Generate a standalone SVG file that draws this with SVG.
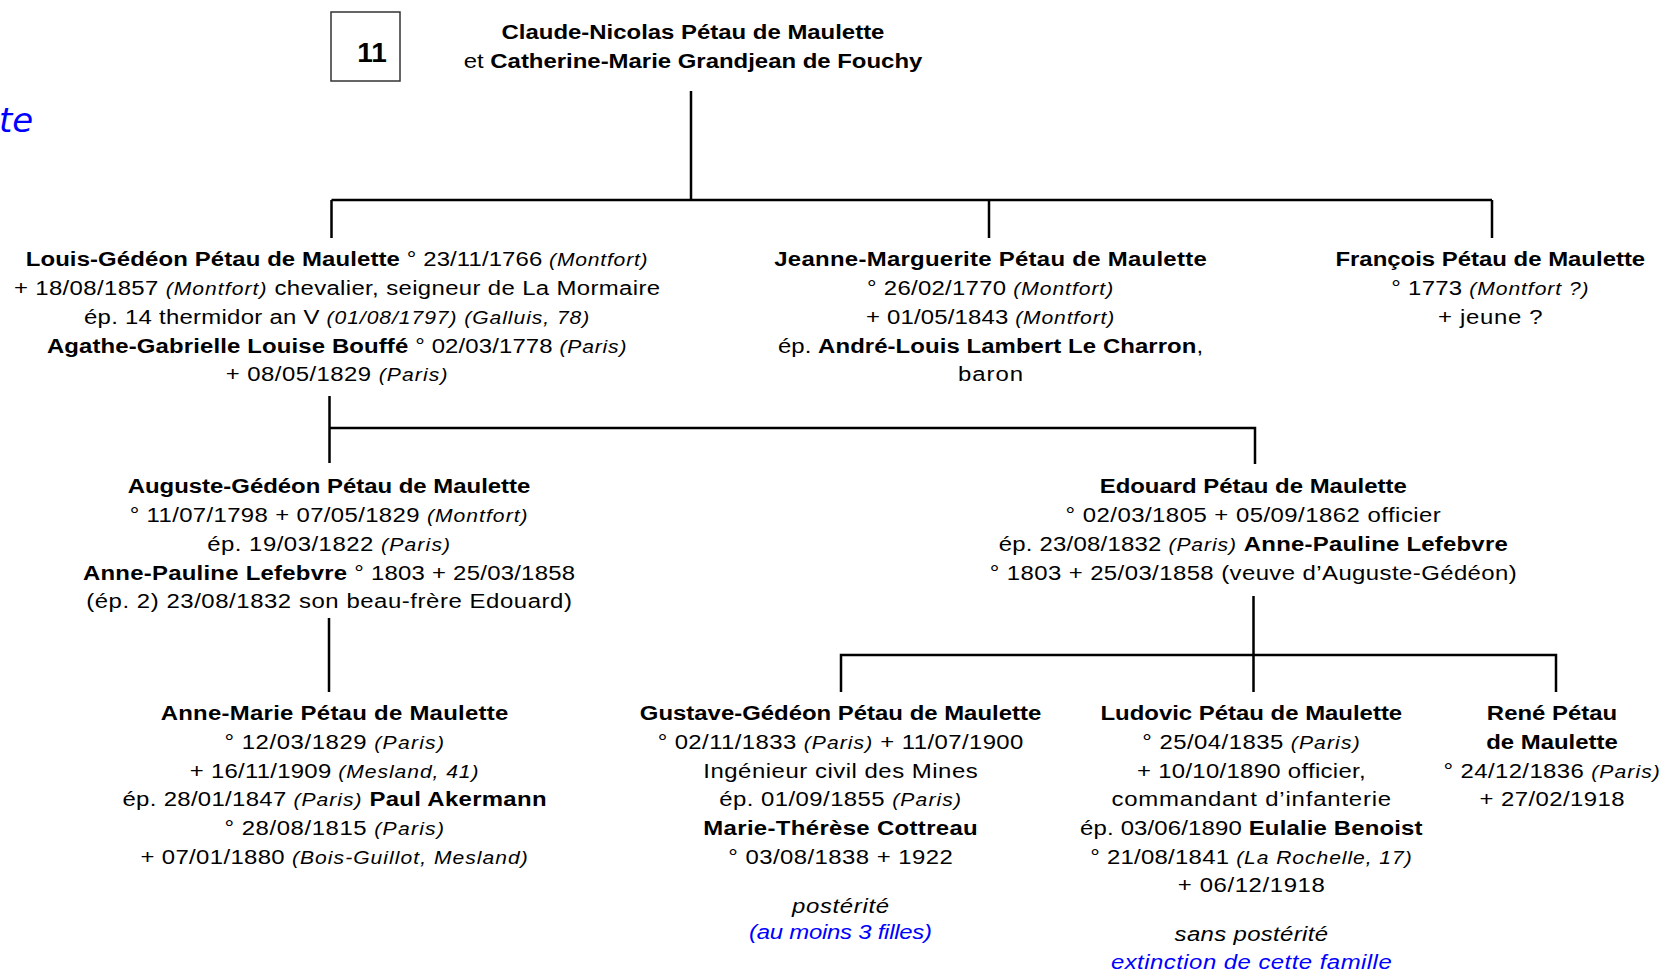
<svg xmlns="http://www.w3.org/2000/svg" width="1665" height="971" viewBox="0 0 1665 971">
<style>
.t{font-family:"Liberation Sans",Arial,sans-serif;font-size:21px;fill:#000;text-anchor:middle}
.b{font-weight:bold}
.i{font-style:italic;font-size:18.5px;letter-spacing:0.6px}
.it{font-style:italic}
.bl{fill:#0000ff}
.c{stroke:#000;stroke-width:2.5;fill:none}
</style>
<rect width="1665" height="971" fill="#fff"/>
<text x="-1" y="132" font-family="DejaVu Sans, sans-serif" font-style="italic" font-size="34" fill="#0000ff">te</text>
<g id="n-num">
<rect x="331" y="12" width="69" height="69" fill="none" stroke="#333" stroke-width="1.5"/>
<text x="372" y="62" font-family="Liberation Sans, Arial, sans-serif" font-weight="bold" font-size="28" text-anchor="middle">11</text>
</g>
<g id="connectors">
<path class="c" d="M691 91V200M331.5 200H1492M331.5 200V238M989 200V238M1492 200V238"/>
<path class="c" d="M329.5 396V463M329.5 428H1255V464"/>
<path class="c" d="M329 618V692M1253.5 596V692M841 692V655H1556V692"/>
</g>
<g id="n-parents" transform="translate(693,0) scale(1.14,1)">
<text class="t" x="0" y="39"><tspan class="b">Claude-Nicolas Pétau de Maulette</tspan></text>
<text class="t" x="0" y="68">et <tspan class="b">Catherine-Marie Grandjean de Fouchy</tspan></text>
</g>
<g id="n-louis" transform="translate(337,0) scale(1.14,1)">
<text class="t" x="0" y="266.3" textLength="546.2" lengthAdjust="spacing"><tspan class="b">Louis-Gédéon Pétau de Maulette</tspan> ° 23/11/1766 <tspan class="i">(Montfort)</tspan></text>
<text class="t" x="0" y="295.2" textLength="566.8" lengthAdjust="spacing">+ 18/08/1857 <tspan class="i">(Montfort)</tspan> chevalier, seigneur de La Mormaire</text>
<text class="t" x="0" y="324" textLength="443.8" lengthAdjust="spacing">ép. 14 thermidor an V <tspan class="i">(01/08/1797) (Galluis, 78)</tspan></text>
<text class="t" x="0" y="352.7" textLength="509" lengthAdjust="spacing"><tspan class="b">Agathe-Gabrielle Louise Bouffé</tspan> ° 02/03/1778 <tspan class="i">(Paris)</tspan></text>
<text class="t" x="0" y="381.4" textLength="195.1" lengthAdjust="spacing">+ 08/05/1829 <tspan class="i">(Paris)</tspan></text>
</g>
<g id="n-jeanne" transform="translate(990.5,0) scale(1.14,1)">
<text class="t" x="0" y="266.3" textLength="379.4" lengthAdjust="spacing"><tspan class="b">Jeanne-Marguerite Pétau de Maulette</tspan></text>
<text class="t" x="0" y="295.2" textLength="216.5" lengthAdjust="spacing">° 26/02/1770 <tspan class="i">(Montfort)</tspan></text>
<text class="t" x="0" y="324" textLength="218.3" lengthAdjust="spacing">+ 01/05/1843 <tspan class="i">(Montfort)</tspan></text>
<text class="t" x="0" y="352.7" textLength="373" lengthAdjust="spacing">ép. <tspan class="b">André-Louis Lambert Le Charron</tspan>,</text>
<text class="t" x="0" y="381.4" textLength="57.2" lengthAdjust="spacing">baron</text>
</g>
<g id="n-francois" transform="translate(1490.3,0) scale(1.14,1)">
<text class="t" x="0" y="266.3"><tspan class="b">François Pétau de Maulette</tspan></text>
<text class="t" x="0" y="295.2" textLength="173.7" lengthAdjust="spacing">° 1773 <tspan class="i">(Montfort ?)</tspan></text>
<text class="t" x="0" y="324" textLength="91.7" lengthAdjust="spacing">+ jeune ?</text>
</g>
<g id="n-auguste" transform="translate(329,0) scale(1.14,1)">
<text class="t" x="0" y="493.5"><tspan class="b">Auguste-Gédéon Pétau de Maulette</tspan></text>
<text class="t" x="0" y="522.2" textLength="349.7" lengthAdjust="spacing">° 11/07/1798 + 07/05/1829 <tspan class="i">(Montfort)</tspan></text>
<text class="t" x="0" y="550.9" textLength="213.7" lengthAdjust="spacing">ép. 19/03/1822 <tspan class="i">(Paris)</tspan></text>
<text class="t" x="0" y="579.6" textLength="431.7" lengthAdjust="spacing"><tspan class="b">Anne-Pauline Lefebvre</tspan> ° 1803 + 25/03/1858</text>
<text class="t" x="0" y="608.3" textLength="426.1" lengthAdjust="spacing">(ép. 2) 23/08/1832 son beau-frère Edouard)</text>
</g>
<g id="n-edouard" transform="translate(1253.2,0) scale(1.14,1)">
<text class="t" x="0" y="493.5"><tspan class="b">Edouard Pétau de Maulette</tspan></text>
<text class="t" x="0" y="522.2" textLength="329.2" lengthAdjust="spacing">° 02/03/1805 + 05/09/1862 officier</text>
<text class="t" x="0" y="550.9" textLength="446.6" lengthAdjust="spacing">ép. 23/08/1832 <tspan class="i">(Paris)</tspan> <tspan class="b">Anne-Pauline Lefebvre</tspan></text>
<text class="t" x="0" y="579.6" textLength="462.4" lengthAdjust="spacing">° 1803 + 25/03/1858 (veuve d’Auguste-Gédéon)</text>
</g>
<g id="n-annemarie" transform="translate(334.5,0) scale(1.14,1)">
<text class="t" x="0" y="720.3" textLength="305" lengthAdjust="spacing"><tspan class="b">Anne-Marie Pétau de Maulette</tspan></text>
<text class="t" x="0" y="749" textLength="193.2" lengthAdjust="spacing">° 12/03/1829 <tspan class="i">(Paris)</tspan></text>
<text class="t" x="0" y="777.7" textLength="253.8" lengthAdjust="spacing">+ 16/11/1909 <tspan class="i">(Mesland, 41)</tspan></text>
<text class="t" x="0" y="806.4" textLength="372" lengthAdjust="spacing">ép. 28/01/1847 <tspan class="i">(Paris)</tspan> <tspan class="b">Paul Akermann</tspan></text>
<text class="t" x="0" y="835.1" textLength="193.2" lengthAdjust="spacing">° 28/08/1815 <tspan class="i">(Paris)</tspan></text>
<text class="t" x="0" y="863.8" textLength="340.4" lengthAdjust="spacing">+ 07/01/1880 <tspan class="i">(Bois-Guillot, Mesland)</tspan></text>
</g>
<g id="n-gustave" transform="translate(840.5,0) scale(1.14,1)">
<text class="t" x="0" y="720.3"><tspan class="b">Gustave-Gédéon Pétau de Maulette</tspan></text>
<text class="t" x="0" y="749" textLength="320.8" lengthAdjust="spacing">° 02/11/1833 <tspan class="i">(Paris)</tspan> + 11/07/1900</text>
<text class="t" x="0" y="777.7" textLength="240.7" lengthAdjust="spacing">Ingénieur civil des Mines</text>
<text class="t" x="0" y="806.4" textLength="212.7" lengthAdjust="spacing">ép. 01/09/1855 <tspan class="i">(Paris)</tspan></text>
<text class="t" x="0" y="835.1" textLength="240.7" lengthAdjust="spacing"><tspan class="b">Marie-Thérèse Cottreau</tspan></text>
<text class="t" x="0" y="863.8" textLength="196.9" lengthAdjust="spacing">° 03/08/1838 + 1922</text>
<text class="t it" x="0" y="912.7" textLength="85.2" lengthAdjust="spacing">postérité</text>
<text class="t it bl" x="0" y="939.5" textLength="160.6" lengthAdjust="spacing">(au moins 3 filles)</text>
</g>
<g id="n-ludovic" transform="translate(1251.3,0) scale(1.14,1)">
<text class="t" x="0" y="720.3"><tspan class="b">Ludovic Pétau de Maulette</tspan></text>
<text class="t" x="0" y="749" textLength="191.3" lengthAdjust="spacing">° 25/04/1835 <tspan class="i">(Paris)</tspan></text>
<text class="t" x="0" y="777.7" textLength="200.6" lengthAdjust="spacing">+ 10/10/1890 officier,</text>
<text class="t" x="0" y="806.4" textLength="245.4" lengthAdjust="spacing">commandant d’infanterie</text>
<text class="t" x="0" y="835.1" textLength="300.4" lengthAdjust="spacing">ép. 03/06/1890 <tspan class="b">Eulalie Benoist</tspan></text>
<text class="t" x="0" y="863.8" textLength="282.6" lengthAdjust="spacing">° 21/08/1841 <tspan class="i">(La Rochelle, 17)</tspan></text>
<text class="t" x="0" y="892.5" textLength="128.9" lengthAdjust="spacing">+ 06/12/1918</text>
<text class="t it" x="0" y="940.7" textLength="134.6" lengthAdjust="spacing">sans postérité</text>
<text class="t it bl" x="0" y="969.5" textLength="246.3" lengthAdjust="spacing">extinction de cette famille</text>
</g>
<g id="n-rene" transform="translate(1552,0) scale(1.14,1)">
<text class="t" x="0" y="720.3"><tspan class="b">René Pétau</tspan></text>
<text class="t" x="0" y="749"><tspan class="b">de Maulette</tspan></text>
<text class="t" x="0" y="777.7" textLength="190.4" lengthAdjust="spacing">° 24/12/1836 <tspan class="i">(Paris)</tspan></text>
<text class="t" x="0" y="806.4" textLength="127.1" lengthAdjust="spacing">+ 27/02/1918</text>
</g>
</svg>
